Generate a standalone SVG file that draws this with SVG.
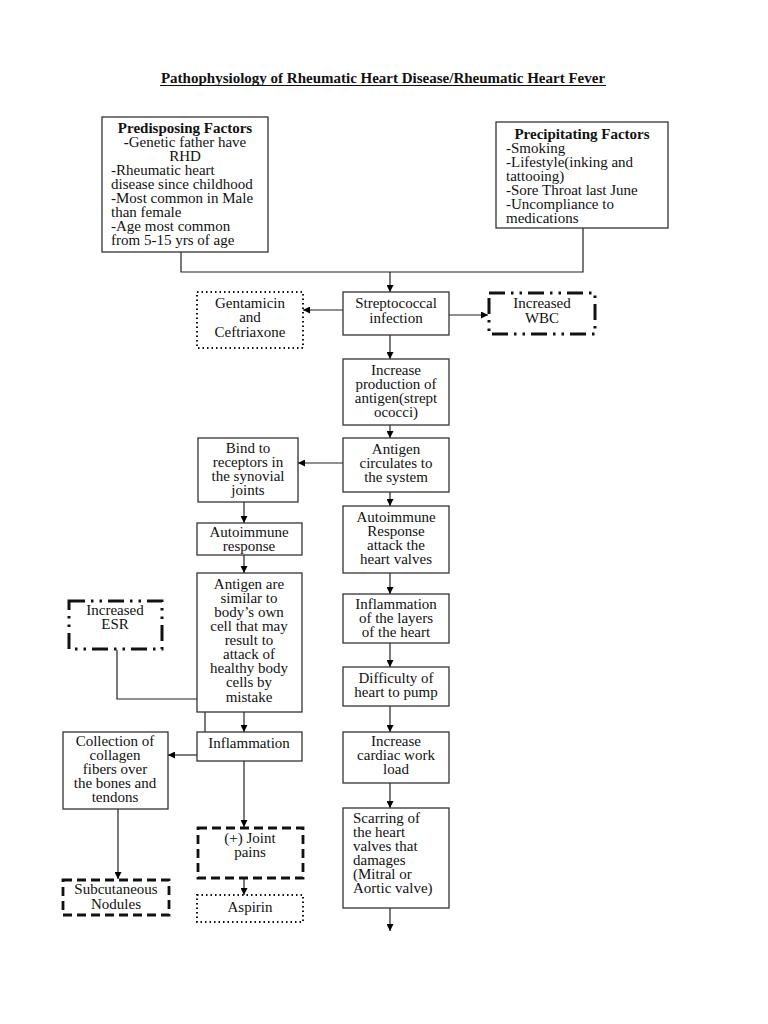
<svg xmlns="http://www.w3.org/2000/svg" width="768" height="1024" viewBox="0 0 768 1024">
<defs>
<marker id="ah" viewBox="0 0 10 10" refX="10" refY="5" markerWidth="7" markerHeight="7" markerUnits="userSpaceOnUse" orient="auto">
<path d="M0,0 L10,5 L0,10 z" fill="#000"/>
</marker>
</defs>
<style>
text{font-family:"Liberation Serif","Times New Roman",serif;font-size:15px;fill:#111}
.c{text-anchor:middle}
.b{font-weight:bold}
.box{fill:#fff;stroke:#333;stroke-width:1.3}
.dot{fill:#fff;stroke:#111;stroke-width:2;stroke-dasharray:1.5 3}
.dash{fill:#fff;stroke:#111;stroke-width:2.8;stroke-dasharray:9 5}
.dd{fill:#fff;stroke:#111;stroke-width:3;stroke-dasharray:16 6 2.5 6 2.5 6}
.ln{fill:none;stroke:#222;stroke-width:1.2}
.ar{fill:none;stroke:#222;stroke-width:1.2;marker-end:url(#ah)}
</style>
<rect width="768" height="1024" fill="#fff"/>
<text x="383" y="83" class="c b">Pathophysiology of Rheumatic Heart Disease/Rheumatic Heart Fever</text>
<line x1="160" y1="85.5" x2="606" y2="85.5" stroke="#111" stroke-width="1"/>

<g id="connectors">
<polyline class="ln" points="181,252 181,272 583,272 583,228"/>
<line class="ar" x1="390" y1="272" x2="390" y2="292"/>
<line class="ar" x1="343" y1="310" x2="303" y2="310"/>
<line class="ar" x1="449" y1="315" x2="488" y2="315"/>
<line class="ar" x1="390" y1="335" x2="390" y2="359"/>
<line class="ar" x1="390" y1="425" x2="390" y2="438"/>
<line class="ar" x1="343" y1="463" x2="298" y2="463"/>
<line class="ar" x1="390" y1="492" x2="390" y2="506"/>
<line class="ar" x1="390" y1="573" x2="390" y2="594"/>
<line class="ar" x1="390" y1="643" x2="390" y2="667"/>
<line class="ar" x1="390" y1="706" x2="390" y2="732"/>
<line class="ar" x1="390" y1="783" x2="390" y2="808"/>
<line class="ar" x1="390" y1="908" x2="390" y2="931"/>
<line class="ar" x1="244" y1="502" x2="244" y2="523"/>
<line class="ar" x1="244" y1="555" x2="244" y2="573"/>
<line class="ar" x1="244" y1="712" x2="244" y2="732"/>
<polyline class="ln" points="117,650 117,699 205,699 205,742"/>
<line class="ar" x1="197" y1="755" x2="168" y2="755"/>
<line class="ar" x1="118" y1="809" x2="118" y2="879"/>
<line class="ar" x1="244" y1="761" x2="244" y2="827"/>
<line class="ar" x1="244" y1="878" x2="244" y2="895"/>
</g>

<g id="predisposing">
<rect class="box" x="102" y="117" width="166" height="135"/>
<text x="185" y="133" class="c b">Predisposing Factors</text>
<text x="185" y="147" class="c"><tspan class="b">-</tspan>Genetic father have</text>
<text x="185" y="161" class="c">RHD</text>
<text x="111" y="175">-Rheumatic heart</text>
<text x="111" y="189">disease since childhood</text>
<text x="111" y="203">-Most common in Male</text>
<text x="111" y="217">than female</text>
<text x="111" y="231">-Age most common</text>
<text x="111" y="245">from 5-15 yrs of age</text>
</g>

<g id="precipitating">
<rect class="box" x="496" y="122" width="172" height="106"/>
<text x="582" y="139" class="c b">Precipitating Factors</text>
<text x="506" y="153">-Smoking</text>
<text x="506" y="167">-Lifestyle(inking and</text>
<text x="506" y="181">tattooing)</text>
<text x="506" y="195">-Sore Throat last June</text>
<text x="506" y="209">-Uncompliance to</text>
<text x="506" y="223">medications</text>
</g>

<g id="strep">
<rect class="box" x="343" y="292" width="106" height="43"/>
<text x="396" y="308" class="c">Streptococcal</text>
<text x="396" y="323" class="c">infection</text>
</g>

<g id="gentamicin">
<rect class="dot" x="197" y="292" width="106" height="56"/>
<text x="250" y="308" class="c">Gentamicin</text>
<text x="250" y="322" class="c">and</text>
<text x="250" y="337" class="c">Ceftriaxone</text>
</g>

<g id="wbc">
<rect class="dd" x="489" y="293" width="106" height="41"/>
<text x="542" y="308" class="c">Increased</text>
<text x="542" y="323" class="c">WBC</text>
</g>

<g id="antigen-production">
<rect class="box" x="343" y="359" width="106" height="66"/>
<text x="396" y="375" class="c">Increase</text>
<text x="396" y="389" class="c">production of</text>
<text x="396" y="403" class="c">antigen(strept</text>
<text x="396" y="417" class="c">ococci)</text>
</g>

<g id="antigen-circulates">
<rect class="box" x="343" y="438" width="106" height="54"/>
<text x="396" y="454" class="c">Antigen</text>
<text x="396" y="468" class="c">circulates to</text>
<text x="396" y="482" class="c">the system</text>
</g>

<g id="bind">
<rect class="box" x="198" y="438" width="100" height="64"/>
<text x="248" y="453" class="c">Bind to</text>
<text x="248" y="467" class="c">receptors in</text>
<text x="248" y="481" class="c">the synovial</text>
<text x="248" y="495" class="c">joints</text>
</g>

<g id="autoimmune-heart">
<rect class="box" x="343" y="506" width="106" height="67"/>
<text x="396" y="522" class="c">Autoimmune</text>
<text x="396" y="536" class="c">Response</text>
<text x="396" y="550" class="c">attack the</text>
<text x="396" y="564" class="c">heart valves</text>
</g>

<g id="inflammation-layers">
<rect class="box" x="343" y="594" width="106" height="49"/>
<text x="396" y="609" class="c">Inflammation</text>
<text x="396" y="623" class="c">of the layers</text>
<text x="396" y="637" class="c">of the heart</text>
</g>

<g id="difficulty">
<rect class="box" x="343" y="667" width="106" height="39"/>
<text x="396" y="683" class="c">Difficulty of</text>
<text x="396" y="697" class="c">heart to pump</text>
</g>

<g id="cardiac-load">
<rect class="box" x="343" y="732" width="106" height="51"/>
<text x="396" y="746" class="c">Increase</text>
<text x="396" y="760" class="c">cardiac work</text>
<text x="396" y="774" class="c">load</text>
</g>

<g id="scarring">
<rect class="box" x="343" y="808" width="106" height="100"/>
<text x="353" y="823">Scarring of</text>
<text x="353" y="837">the heart</text>
<text x="353" y="851">valves that</text>
<text x="353" y="865">damages</text>
<text x="353" y="879">(Mitral or</text>
<text x="353" y="893">Aortic valve)</text>
</g>

<g id="autoimmune-response">
<rect class="box" x="197" y="523" width="105" height="32"/>
<text x="249" y="537" class="c">Autoimmune</text>
<text x="249" y="551" class="c">response</text>
</g>

<g id="antigen-similar">
<rect class="box" x="197" y="573" width="105" height="139"/>
<text x="249" y="589" class="c">Antigen are</text>
<text x="249" y="603" class="c">similar to</text>
<text x="249" y="617" class="c">body’s own</text>
<text x="249" y="631" class="c">cell that may</text>
<text x="249" y="645" class="c">result to</text>
<text x="249" y="659" class="c">attack of</text>
<text x="249" y="673" class="c">healthy body</text>
<text x="249" y="687" class="c">cells by</text>
<text x="249" y="702" class="c">mistake</text>
</g>

<g id="esr">
<rect class="dd" x="69" y="601" width="93" height="48"/>
<text x="115" y="615" class="c">Increased</text>
<text x="115" y="629" class="c">ESR</text>
</g>

<g id="inflammation">
<rect class="box" x="197" y="732" width="105" height="29"/>
<text x="249" y="748" class="c">Inflammation</text>
</g>

<g id="collection">
<rect class="box" x="63" y="732" width="105" height="77"/>
<text x="115" y="746" class="c">Collection of</text>
<text x="115" y="760" class="c">collagen</text>
<text x="115" y="774" class="c">fibers over</text>
<text x="115" y="788" class="c">the bones and</text>
<text x="115" y="802" class="c">tendons</text>
</g>

<g id="joint-pains">
<rect class="dash" x="198" y="828" width="105" height="50"/>
<text x="250" y="843" class="c">(+) Joint</text>
<text x="250" y="857" class="c">pains</text>
</g>

<g id="nodules">
<rect class="dash" x="63" y="880" width="106" height="35"/>
<text x="116" y="894" class="c">Subcutaneous</text>
<text x="116" y="909" class="c">Nodules</text>
</g>

<g id="aspirin">
<rect class="dot" x="197" y="895" width="106" height="27"/>
<text x="250" y="912" class="c">Aspirin</text>
</g>
</svg>
